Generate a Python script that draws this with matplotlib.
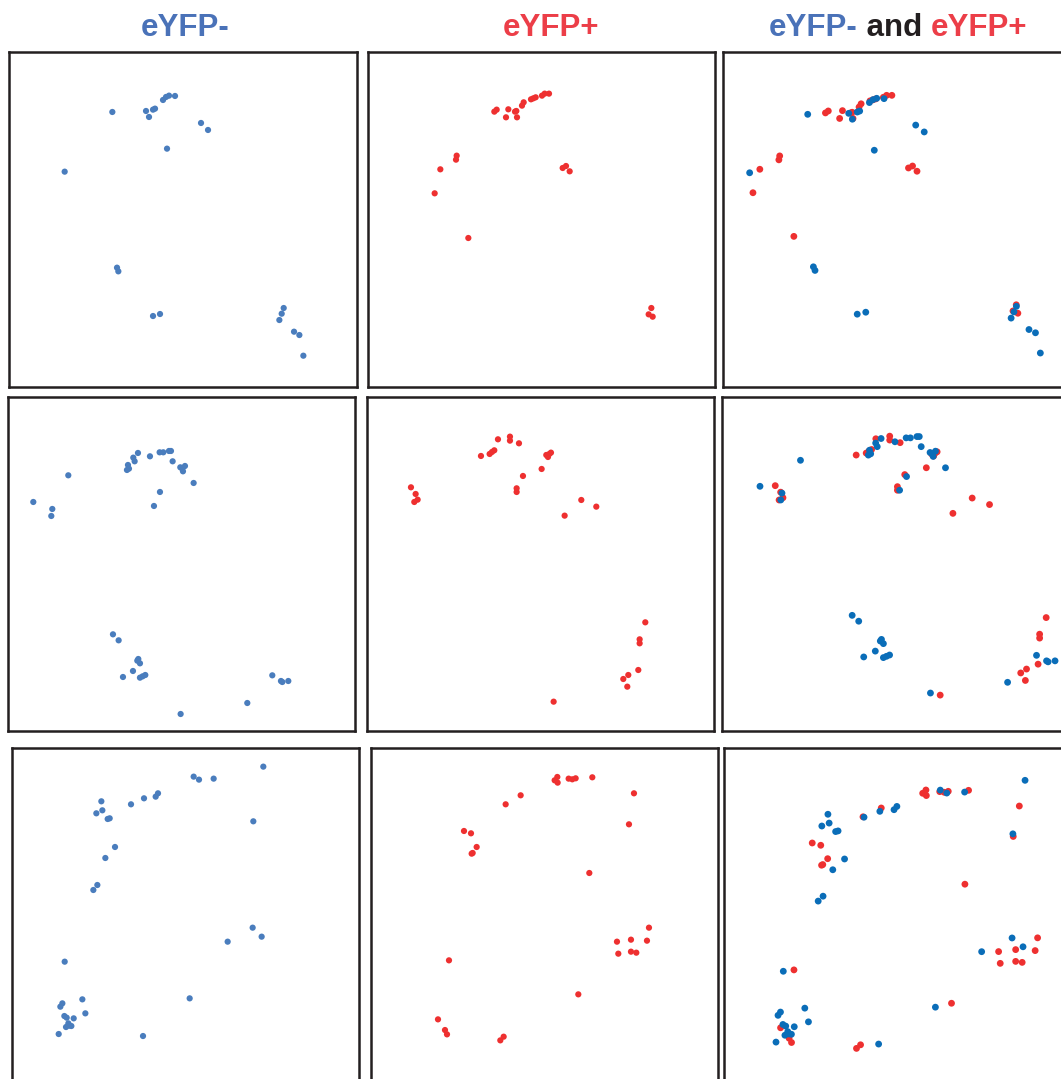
import matplotlib.pyplot as plt

# ---- data: embedding coordinates, one set per row and population ----
# row 1
neg1_x = [337, 438, 447, 459, 465, 489, 498, 507, 525, 603, 624, 501, 194,
          351, 355, 459, 480, 851, 845, 838, 882, 898, 910]
neg1_y = [201, 198, 216, 194, 191, 165, 156, 152, 153, 234, 255, 311, 380,
          668, 679, 813, 807, 789, 806, 825, 860, 870, 932]
pos1_x = [403, 410, 445, 438, 465, 469, 471, 486, 491, 513, 520, 527, 546,
          554, 567, 290, 288, 241, 224, 325, 608, 618, 629, 874, 866, 878]
pos1_y = [200, 194, 193, 217, 200, 198, 217, 182, 172, 163, 160, 157, 152,
          146, 146, 332, 344, 373, 445, 579, 369, 363, 379, 789, 808, 815]

# row 2
neg2_x = [205, 100, 157, 154, 384, 381, 387, 400, 404, 414, 450, 479, 490,
          507, 513, 518, 541, 549, 555, 547, 581, 480, 462, 339, 356, 415,
          412, 420, 399, 369, 420, 428, 436, 817, 843, 847, 865, 742, 542]
neg2_y = [256, 336, 357, 378, 225, 240, 236, 203, 214, 189, 199, 187, 187,
          183, 183, 214, 232, 244, 228, 236, 279, 306, 348, 733, 751, 807,
          812, 820, 843, 861, 863, 859, 855, 856, 873, 876, 873, 939, 972]
pos2_x = [153, 167, 173, 163, 363, 389, 396, 403, 414, 450, 450, 477, 489,
          470, 470, 545, 559, 564, 568, 573, 614, 664, 709, 856, 839, 839,
          835, 805, 790, 802, 581]
pos2_y = [292, 312, 329, 336, 198, 192, 186, 181, 148, 140, 152, 160, 258,
          295, 306, 237, 195, 201, 192, 188, 377, 330, 350, 697, 748, 760,
          840, 855, 867, 890, 935]

# row 3
neg3_x = [790, 581, 597, 641, 474, 467, 432, 393, 304, 307, 289, 323, 329,
          760, 345, 316, 292, 280, 758, 785, 683, 194, 247, 187, 181, 256,
          193, 200, 221, 205, 198, 214, 208, 176, 569, 429]
neg3_y = [80, 110, 119, 116, 160, 170, 175, 193, 184, 211, 220, 237, 235,
          244, 321, 354, 435, 450, 563, 590, 605, 665, 778, 790, 800, 820,
          828, 833, 835, 850, 861, 858, 857, 882, 775, 888]
pos3_x = [592, 584, 593, 626, 637, 647, 697, 822, 482, 437, 312, 333, 350,
          338, 335, 807, 688, 867, 771, 813, 861, 775, 813, 829, 267, 655,
          234, 255, 261, 421, 431]
pos3_y = [111, 121, 128, 116, 118, 115, 112, 160, 166, 193, 273, 280, 321,
          339, 341, 253, 399, 563, 605, 599, 602, 641, 635, 638, 661, 763,
          838, 870, 883, 901, 890]

neg_sets = [(neg1_x, neg1_y), (neg2_x, neg2_y), (neg3_x, neg3_y)]
pos_sets = [(pos1_x, pos1_y), (pos2_x, pos2_y), (pos3_x, pos3_y)]

# view windows (x0, x1, y_bottom, y_top) of each panel
neg_view = [(27, 1070, 1025, 22), (25, 1066, 1023, 22), (35, 1078, 1028, 25)]
pos_view = [(24, 1065, 1025, 22), (22, 1063, 1023, 22), (33, 1075, 1028, 25)]
neg_view_both = [(129.1, 985.5, 1035.1, 11.1), (2.3, 902, 1088.8, 62.2),
                 (47.8, 905, 1006.4, -18.1)]
pos_view_both = [(150.8, 1009.2, 1040.5, 13.9), (15.6, 916, 1045.2, 20.7),
                 (94.7, 951, 1005.9, -16.5)]

titles = ['eYFP-', 'eYFP+']

W, H = 1061, 1079
NEG_C = '#4a7dbd'
NEG_C2 = '#0a6db8'
POS_C = '#ee3030'
T_BLUE = '#4a72b8'
T_RED = '#ec3e48'
SPINE = '#231f20'

# panel boxes in pixels: left, top, right, bottom
boxes = [
    [(9, 52.3, 356.7, 386.7), (368, 52.3, 715, 386.7), (723.3, 52.3, 1071, 386.7)],
    [(8.3, 397.3, 355.3, 731), (367.3, 397.3, 714.3, 731), (722.3, 397.3, 1069.3, 731)],
    [(11.7, 748.3, 359.3, 1082.7), (371, 748.3, 718.3, 1082.7), (724, 748.3, 1071.7, 1082.7)],
]


def make_ax(fig, box, frame=True):
    l, t, r, b = box
    ax = fig.add_axes([l / W, 1 - b / H, (r - l) / W, (b - t) / H])
    ax.set_xticks([])
    ax.set_yticks([])
    for sp in ax.spines.values():
        sp.set_color(SPINE)
        sp.set_linewidth(1.8)
        sp.set_visible(frame)
    ax.patch.set_alpha(0)
    return ax


def set_view(ax, v):
    ax.set_xlim(v[0], v[1])
    ax.set_ylim(v[2], v[3])


fig = plt.figure(figsize=(W / 100, H / 100), dpi=100)

for i in range(3):
    ax = make_ax(fig, boxes[i][0])
    ax.scatter(*neg_sets[i], s=20, color=NEG_C, edgecolors='none')
    set_view(ax, neg_view[i])

    ax = make_ax(fig, boxes[i][1])
    ax.scatter(*pos_sets[i], s=20, color=POS_C, edgecolors='none')
    set_view(ax, pos_view[i])

    # combined panel: two overlaid axes sharing one frame
    axr = make_ax(fig, boxes[i][2], frame=False)
    axr.scatter(*pos_sets[i], s=24, color=POS_C, edgecolors='none')
    set_view(axr, pos_view_both[i])
    axb = make_ax(fig, boxes[i][2])
    axb.scatter(*neg_sets[i], s=24, color=NEG_C2, edgecolors='none')
    set_view(axb, neg_view_both[i])

# column headers
tkw = dict(fontsize=22.5, fontweight='bold', family=['Liberation Sans', 'DejaVu Sans'],
           va='baseline')
ty = 1 - 36.5 / H
fig.text(185 / W, ty, titles[0], color=T_BLUE, ha='center', **tkw)
fig.text(551 / W, ty, titles[1], color=T_RED, ha='center', **tkw)

parts = [(titles[0], T_BLUE), (' and ', '#231f20'), (titles[1], T_RED)]
fig.canvas.draw()
rend = fig.canvas.get_renderer()
pieces = [fig.text(0, ty, s, color=c, ha='left', **tkw) for s, c in parts]
widths = [p.get_window_extent(rend).width for p in pieces]
x = 898 - sum(widths) / 2
for p, w in zip(pieces, widths):
    p.set_x(x / W)
    x += w

fig.savefig('out.png', dpi=100)
